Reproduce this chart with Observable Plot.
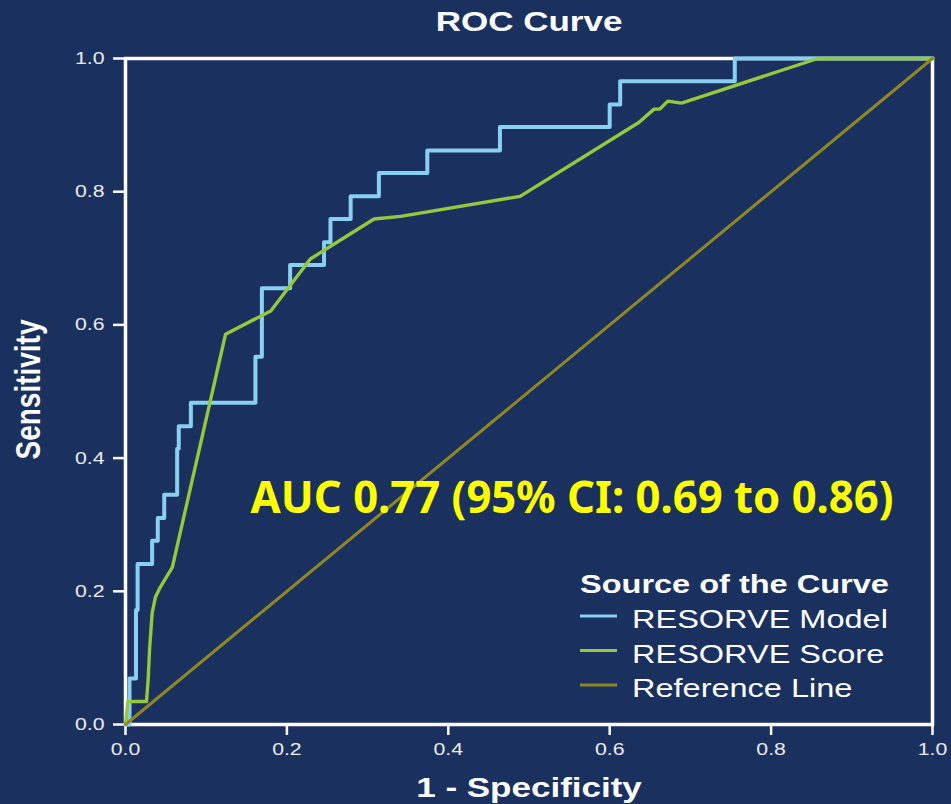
<!DOCTYPE html>
<html><head><meta charset="utf-8">
<script src="https://cdn.jsdelivr.net/npm/d3@7"></script>
<script src="https://cdn.jsdelivr.net/npm/@observablehq/plot@0.6"></script>
<style>
html,body{margin:0;padding:0;background:#1a3160;}
#chart{width:951px;height:804px;}
</style></head><body>
<div id="chart"></div>
<script>
const titleText = "ROC Curve";
const xLabel = "1 - Specificity";
const yLabel = "Sensitivity";
const legendTitle = "Source of the Curve";
const seriesNames = ["RESORVE Model", "RESORVE Score", "Reference Line"];
const seriesColors = ["#88cff0", "#95c83a", "#8e8722"];
const aucLabel = "AUC 0.77 (95% CI: 0.69 to 0.86)";
const aucPos = [0.155, 0.339];

const modelFpr = [0, 0.005, 0.013, 0.015, 0.033, 0.040, 0.048, 0.064, 0.066, 0.081, 0.161, 0.169, 0.204, 0.246, 0.254, 0.279, 0.314, 0.374, 0.464, 0.600, 0.613, 0.755, 1.0];
const modelTpr = [0, 0.069, 0.172, 0.241, 0.276, 0.310, 0.345, 0.414, 0.448, 0.483, 0.552, 0.655, 0.690, 0.724, 0.759, 0.793, 0.828, 0.862, 0.897, 0.931, 0.966, 1.0, 1.0];

const scoreFpr = [0, 0.003, 0.026, 0.028, 0.030, 0.033, 0.037, 0.043, 0.058, 0.124, 0.180, 0.229, 0.308, 0.341, 0.489, 0.636, 0.655, 0.662, 0.672, 0.689, 0.858, 1.0];
const scoreTpr = [0, 0.0345, 0.0345, 0.066, 0.116, 0.167, 0.191, 0.206, 0.236, 0.586, 0.621, 0.699, 0.759, 0.763, 0.793, 0.904, 0.924, 0.924, 0.936, 0.933, 1.0, 1.0];

const refFpr = [0, 1];
const refTpr = [0, 1];

const xTicks = [0, 0.2, 0.4, 0.6, 0.8, 1.0];
const yTicks = [0, 0.2, 0.4, 0.6, 0.8, 1.0];

const zip = (xs, ys) => xs.map((x, i) => ({x, y: ys[i]}));
const modelData = zip(modelFpr, modelTpr);
const scoreData = zip(scoreFpr, scoreTpr);
const refData = zip(refFpr, refTpr);

const BG = "#1a3160";
const sans = "'Liberation Sans', Arial, sans-serif";

const chart = Plot.plot({
  width: 951,
  height: 804,
  marginLeft: 125,
  marginRight: 19,
  marginTop: 58,
  marginBottom: 80,
  style: {background: BG, color: "#ececec", fontFamily: sans, fontSize: "17px"},
  x: {domain: [0, 1]},
  y: {domain: [0, 1]},
  marks: [
    Plot.axisX({ticks: xTicks, tickFormat: d3.format(".1f"), tickSize: 11, tickPadding: 7, stroke: "white", strokeWidth: 2.5, fill: "#ececec", fontSize: 17, label: null}),
    Plot.axisY({ticks: yTicks, tickFormat: d3.format(".1f"), tickSize: 12, tickPadding: 9, stroke: "white", strokeWidth: 2.5, fill: "#ececec", fontSize: 17, label: null}),
    Plot.frame({stroke: "white", strokeWidth: 3.5}),
    Plot.line(modelData, {x: "x", y: "y", curve: "step-after", stroke: seriesColors[0], strokeWidth: 4}),
    Plot.line(scoreData, {x: "x", y: "y", stroke: seriesColors[1], strokeWidth: 3.4}),
    Plot.line(refData, {x: "x", y: "y", stroke: seriesColors[2], strokeWidth: 3}),
    Plot.text([titleText], {frameAnchor: "top", dy: -36, lineAnchor: "middle", textAnchor: "middle", fontSize: 28, fontWeight: "bold", fill: "white"}),
    Plot.text([xLabel], {frameAnchor: "bottom", dy: 64, lineAnchor: "middle", textAnchor: "middle", fontSize: 28, fontWeight: "bold", fill: "white"}),
    Plot.text([yLabel], {frameAnchor: "left", dx: -96.5, dy: -2, rotate: -90, lineAnchor: "middle", textAnchor: "middle", fontSize: 28, fontWeight: "bold", fill: "white"}),
    Plot.text([aucLabel], {x: () => aucPos[0], y: () => aucPos[1], textAnchor: "start", lineAnchor: "middle", fontSize: 44, fontWeight: "bold", fill: "#ffff00", fontFamily: "'Noto Sans', 'Open Sans', sans-serif"})
  ]
});

document.getElementById("chart").appendChild(chart);
const svg = d3.select(chart);

// Legend
const lg = svg.append("g").attr("font-family", sans).attr("fill", "white").attr("text-anchor", "start");
lg.append("text").attr("x", 580).attr("y", 593).attr("font-size", 26).attr("font-weight", "bold").text(legendTitle);
const rowY = [616, 650.5, 685];
seriesNames.forEach((name, i) => {
  lg.append("line").attr("x1", 580).attr("x2", 617).attr("y1", rowY[i]).attr("y2", rowY[i])
    .attr("stroke", seriesColors[i]).attr("stroke-width", 3);
  lg.append("text").attr("x", 632).attr("y", rowY[i] + 12.3).attr("font-size", 26).text(name);
});

// horizontal stretch of text to match reference aspect
svg.selectAll("text").each(function() {
  const t = this.textContent;
  if (t === yLabel) {
    const tr = this.getAttribute("transform") || "";
    this.setAttribute("transform", tr + " scale(1,1.25)");
    return;
  }
  if (t === aucLabel) {
    this.setAttribute("textLength", 643);
    this.setAttribute("lengthAdjust", "spacingAndGlyphs");
    return;
  }
  const L = this.getComputedTextLength();
  if (L > 0) {
    this.setAttribute("textLength", L * 1.25);
    this.setAttribute("lengthAdjust", "spacingAndGlyphs");
  }
});
</script>
</body></html>
